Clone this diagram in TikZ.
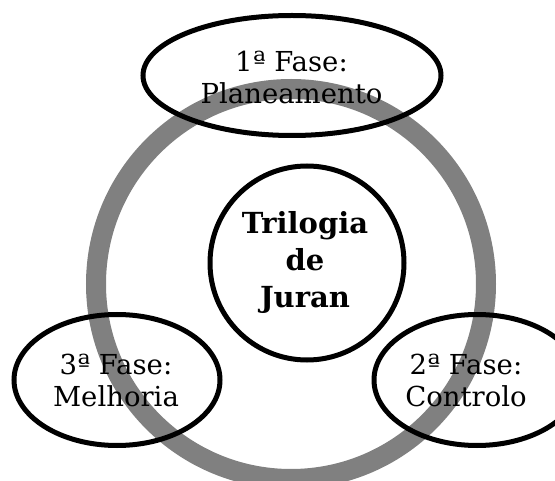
\documentclass[tikz,border=0pt]{standalone}
\usepackage{fontspec}
\setmainfont{DejaVu Serif}
\usetikzlibrary{shapes.geometric}
\tikzset{
  ringline/.style={draw=ringgray, line width=20pt},
  phase/.style={draw=black, line width=5pt, ellipse, inner sep=0pt},
  hub/.style={draw=black, line width=5pt, circle, fill=white, inner sep=0pt},
  phasetext/.style={align=center, inner sep=0pt, font=\fontsize{27.5}{32}\selectfont},
  hubtext/.style={align=center, inner sep=0pt, font=\fontsize{29}{37}\selectfont\bfseries}
}
\definecolor{ringgray}{HTML}{808080}
\begin{document}
\begin{tikzpicture}[x=1pt,y=1pt]
\useasboundingbox (0,0) rectangle (555,480);
\clip (0,0) rectangle (555,480);
% ring
\node[circle, minimum size=390pt, inner sep=0pt, ringline] (ring) at (291,196) {};
% phases
\node[phase, minimum width=298pt, minimum height=120pt] (p1) at (292,404.5) {};
\node[phase, minimum width=206pt, minimum height=131pt] (p3) at (117,100) {};
\node[phase, minimum width=206pt, minimum height=131pt] (p2) at (477,100) {};
% hub
\node[hub, minimum size=194pt] (hub) at (307,217) {};
% texts
\node[phasetext] (t1) at (291.5,403) {1ª Fase:\\Planeamento};
\node[phasetext] (t3) at (116,100) {3ª Fase:\\Melhoria};
\node[phasetext] (t2) at (466,100) {2ª Fase:\\Controlo};
\node[hubtext] (th) at (305,218) {Trilogia\\de\\Juran};
\end{tikzpicture}
\end{document}
